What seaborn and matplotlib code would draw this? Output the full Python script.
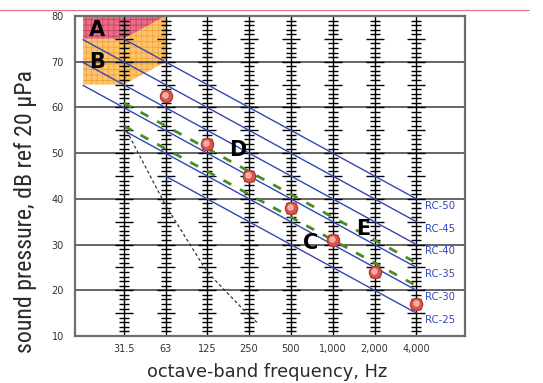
import numpy as np
import pandas as pd
import matplotlib
matplotlib.use("Agg")
import matplotlib.pyplot as plt
import seaborn as sns
from matplotlib import font_manager as fm
from matplotlib.patches import Polygon
from matplotlib.lines import Line2D

# ---- data -------------------------------------------------------------
bands = ["31.5", "63", "125", "250", "500", "1,000", "2,000", "4,000"]
band_hz = [31.5, 63, 125, 250, 500, 1000, 2000, 4000]

# measured octave-band spectrum (dB re 20 uPa)
spectrum_hz = [63, 125, 250, 500, 1000, 2000, 4000]
spectrum_db = [62.5, 52, 45, 38, 31, 24, 17]

# RC reference curves: level at 1000 Hz, lowest band each curve starts at
rc_ratings = [25, 30, 35, 40, 45, 50]
rc_start_hz = [63, 31.5, 16, 16, 16, 31.5]
rc_end_hz = 4000
rc_slope = -5.0  # dB per octave

# vibration regions (lower boundary at 16, 31.5, 63 Hz)
region_hz = [16, 31.5, 63]
region_a_floor = [75, 75, 80]
region_b_floor = [65, 65, 70]

# threshold of hearing
threshold_hz = [31.5, 63, 125, 250, 290]
threshold_db = [56, 38.5, 24, 14.5, 12.8]

# spectrum quality band: offset above the mean-level RC line
quality_offset = 5

# ---- helpers ----------------------------------------------------------
X_MIN, X_MAX = -1.17, 8.15


def octave_pos(hz):
    """Position on the octave axis, 31.5 Hz = 0."""
    p = np.log2(np.asarray(hz, dtype=float) / 31.5)
    return np.maximum(p, X_MIN)


def rc_level(rating, pos):
    return rating + rc_slope * (np.asarray(pos) - octave_pos(1000))


def narrow_font():
    """Return (family, stretch) of an installed condensed sans face, if any."""
    names = {f.name for f in fm.fontManager.ttflist}
    for fam in ["Liberation Sans Narrow", "Roboto Condensed", "Open Sans Condensed",
                "Noto Sans Condensed", "DejaVu Sans Condensed"]:
        if fam in names:
            return fam, "normal"
    for f in fm.fontManager.ttflist:
        if f.name in ("DejaVu Sans", "Noto Sans", "Open Sans", "Roboto") and \
                f.stretch in ("condensed", "semi-condensed") and f.weight in (400, "normal"):
            return f.name, f.stretch
    return "DejaVu Sans", "normal"


sns.set_style("white")
plt.rcParams["font.family"] = ["DejaVu Sans"]
plt.rcParams["hatch.linewidth"] = 0.6

fig = plt.figure(figsize=(5.43, 3.83), dpi=100)
ax = fig.add_axes([75 / 543, 1 - 336 / 383, 390 / 543, 320 / 383])
ax.set_xlim(X_MIN, X_MAX)
ax.set_ylim(10, 80)

# vibration regions A and B
rp = octave_pos(region_hz)
poly_a = [(rp[0], 80)] + list(zip(rp, region_a_floor))
poly_b = list(zip(rp, region_b_floor)) + [(rp[-1], 80)] + list(zip(rp[::-1], region_a_floor[::-1]))
ax.add_patch(Polygon(poly_a, closed=True, facecolor="#e66c88", edgecolor="#c9465f",
                     hatch="+++", lw=0, zorder=0.3))
ax.add_patch(Polygon(poly_b, closed=True, facecolor="#fdc46b", edgecolor="#f2a43a",
                     hatch="+++", lw=0, zorder=0.3))

# horizontal grid every 10 dB
ax.set_yticks(np.arange(10, 81, 10))
ax.set_axisbelow(True)
ax.grid(axis="y", color="#4a4a4a", lw=1.2)
ax.grid(axis="x", visible=False)

# dB rulers on every octave band
bpos = octave_pos(band_hz)
ax.vlines(bpos, 10, 80, color="black", lw=1.0, zorder=2)
fine = np.arange(11, 80)
short = fine[fine % 5 != 0]
longt = fine[(fine % 5 == 0)]
ax.plot(np.repeat(bpos, len(short)), np.tile(short, len(bpos)), ls="none",
        marker="_", ms=6.5, mew=1.0, color="black", zorder=2)
ax.plot(np.repeat(bpos, len(longt)), np.tile(longt, len(bpos)), ls="none",
        marker="_", ms=13, mew=1.0, color="black", zorder=2)

# RC curves
rows = []
for r, s in zip(rc_ratings, rc_start_hz):
    for hz in (s, rc_end_hz):
        p = float(octave_pos(hz))
        rows.append({"rc": f"RC-{r}", "pos": p, "level": float(rc_level(r, p))})
rc_df = pd.DataFrame(rows)
blue = "#3146b8"
sns.lineplot(data=rc_df, x="pos", y="level", units="rc", estimator=None,
             color=blue, lw=1.0, ax=ax, zorder=3, legend=False)
for r in rc_ratings:
    ax.text(7.19, rc_level(r, octave_pos(rc_end_hz)) - 1.5, f"RC-{r}",
            color=blue, fontsize=7.3, ha="left", va="center", zorder=5)

# mean-level line and +offset line
spec_pos = octave_pos(spectrum_hz)
spec = pd.DataFrame({"pos": spec_pos, "db": spectrum_db, "hz": spectrum_hz})
mean_rc = spec.loc[spec.hz.isin([500, 1000, 2000]), "db"].mean()
qpos = octave_pos([31.5, 4000])
green = pd.DataFrame({
    "pos": np.concatenate([qpos, qpos]),
    "level": np.concatenate([rc_level(mean_rc, qpos), rc_level(mean_rc + quality_offset, qpos)]),
    "line": ["mean"] * 2 + ["upper"] * 2,
})
for _, g in green.groupby("line"):
    sns.lineplot(data=g, x="pos", y="level", color="#4b8b22", lw=2.0,
                 dashes=False, ax=ax, zorder=3, legend=False,
                 linestyle=(0, (3.2, 3.6)))

# threshold of hearing
ax.plot(octave_pos(threshold_hz), threshold_db, color="#333333", lw=0.9,
        linestyle=(0, (2.5, 2)), zorder=3)

# spectrum points
sns.scatterplot(data=spec, x="pos", y="db", s=80, color="#d9544c",
                edgecolor="#b3322c", linewidth=0.8, ax=ax, zorder=6, legend=False)
ax.scatter(spec.pos - 0.02, spec.db + 0.25, s=22, color="#f2bdb5", lw=0,
           zorder=7, alpha=0.9)

# region and spectrum letters
for ch, x, y in [("A", -0.64, 76.9), ("B", -0.64, 70.0), ("D", 2.72, 50.7),
                 ("C", 4.46, 30.3), ("E", 5.73, 33.4)]:
    ax.text(x, y, ch, fontsize=15, fontweight="bold", ha="center", va="center",
            color="black", zorder=8)

# axes styling
ax.set_xticks(bpos)
ax.set_xticklabels(bands)
ax.tick_params(axis="both", length=0, labelsize=7, colors="#333333")
ax.tick_params(axis="x", pad=6)
ax.tick_params(axis="y", pad=8)
for sp in ax.spines.values():
    sp.set_color("#6e6e6e")
    sp.set_linewidth(1.6)
    sp.set_visible(True)

ax.set_xlabel("octave-band frequency, Hz", fontsize=12.8, color="#2b2b2b", va="center")
ax.xaxis.set_label_coords(0.492, -0.1125)

# narrow face for the vertical label, sized to span ~283 px
fam, stretch = narrow_font()
ylab = ax.set_ylabel("sound pressure, dB ref 20 µPa", fontsize=15,
                     family=[fam, "DejaVu Sans"], fontstretch=stretch,
                     color="#2b2b2b", va="center")
ax.yaxis.set_label_coords(-0.128, 0.389)
renderer = fig.canvas.get_renderer()
span = ylab.get_window_extent(renderer).height
if span > 0:
    ylab.set_fontsize(15 * 283 / span)

# page rule across the top
fig.add_artist(Line2D([0, 0.975], [1 - 10 / 383] * 2, color="#e46f7c", lw=0.8))

fig.savefig("out.png", dpi=100)
